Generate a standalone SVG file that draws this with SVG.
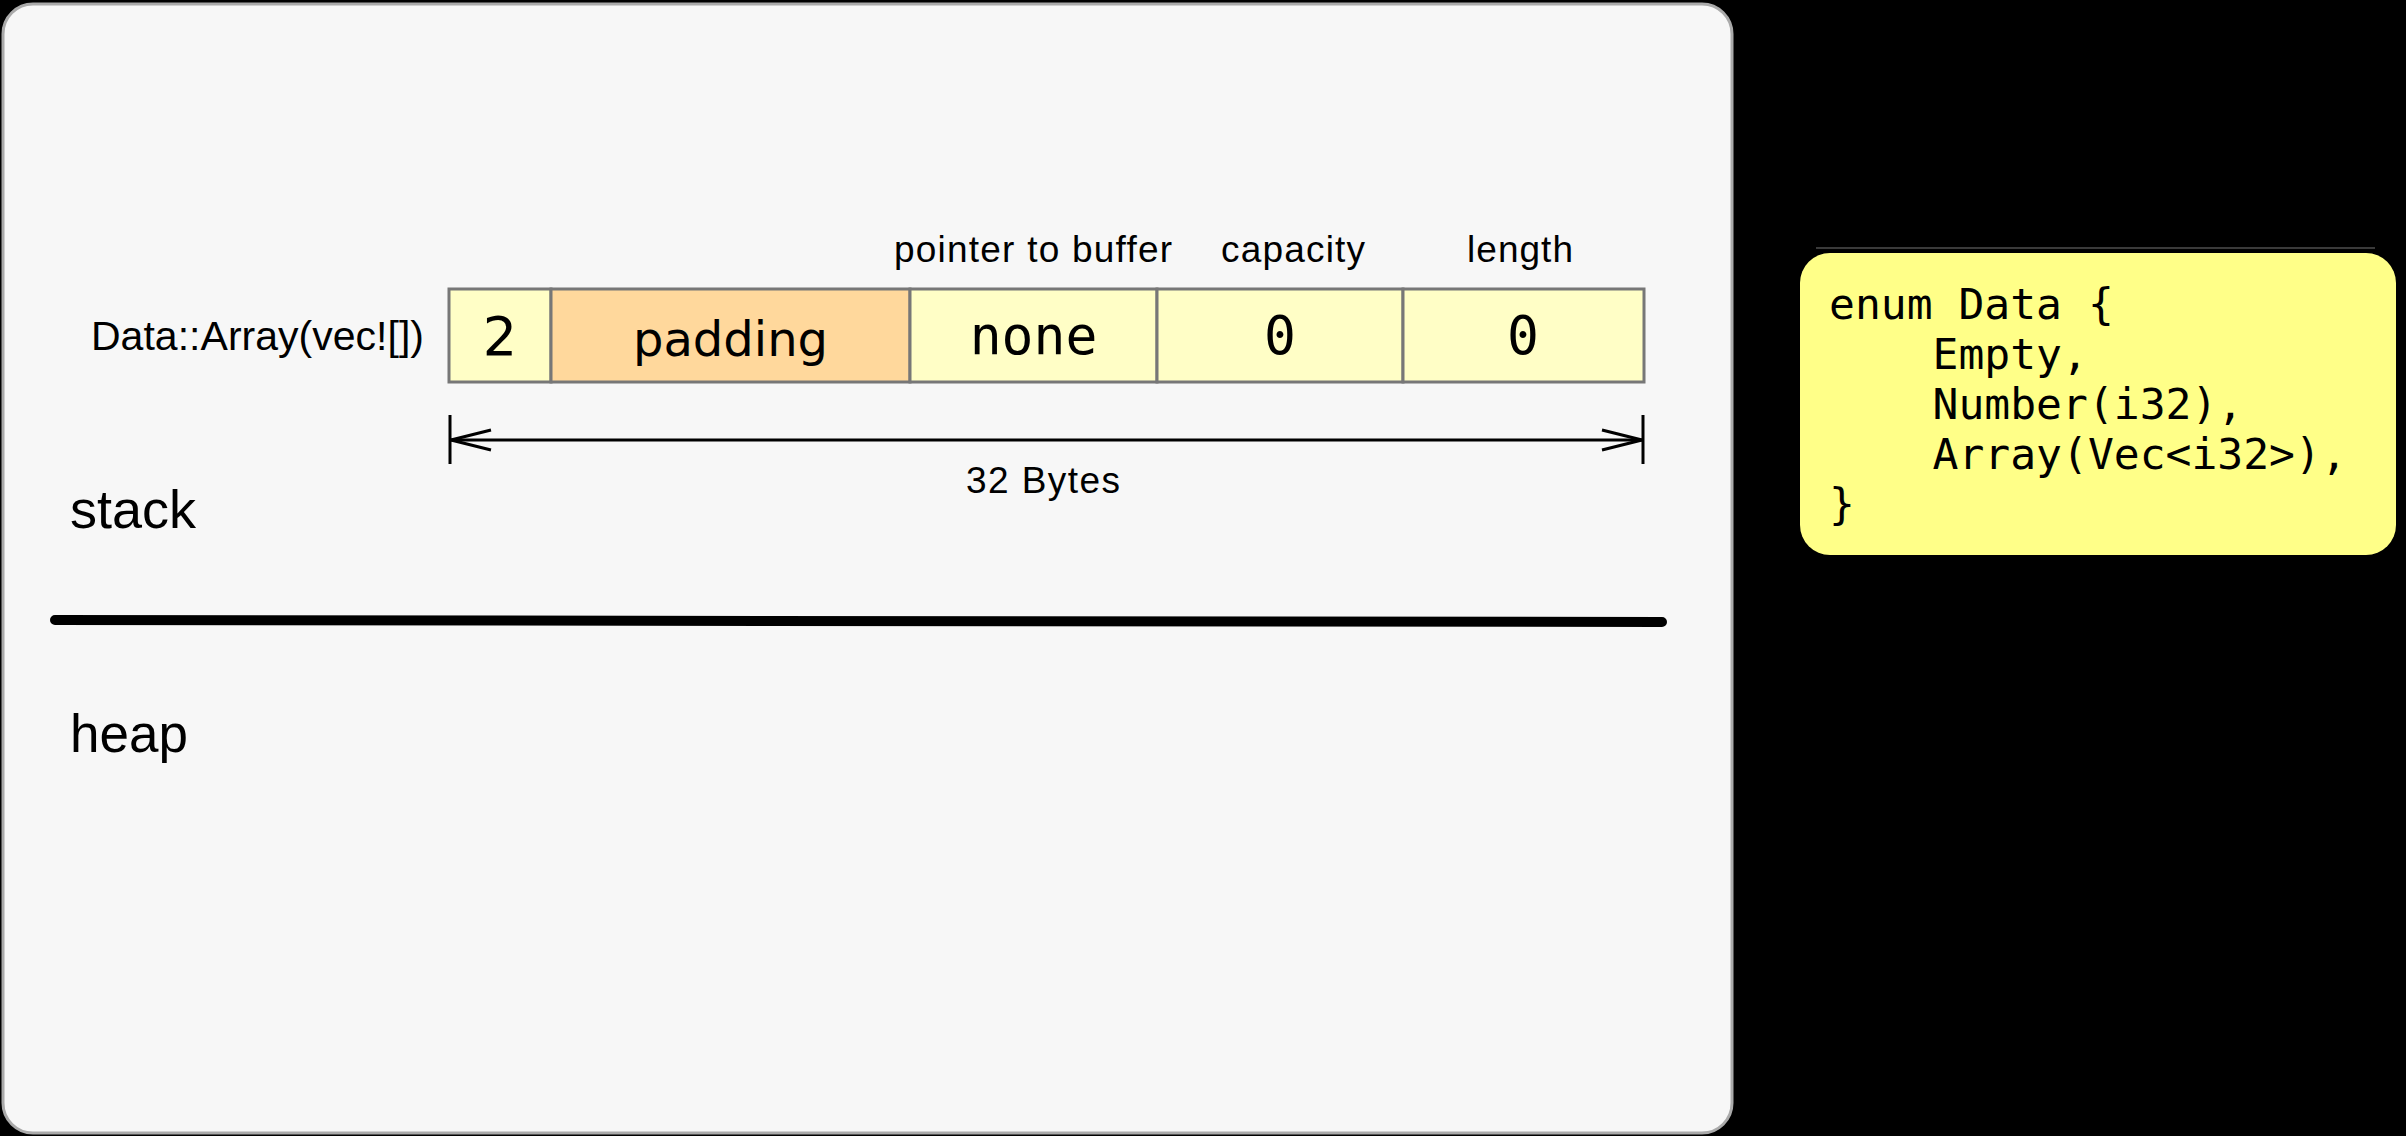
<svg xmlns="http://www.w3.org/2000/svg" width="2406" height="1136" viewBox="0 0 2406 1136">
  <style>
    .lbl { font-family: "Liberation Sans", Arial, sans-serif; fill: #000; }
    .cell { stroke: #777; stroke-width: 3; }
    .yel { fill: #FFFEC6; }
    .org { fill: #FFD89C; }
    .val { font-family: "DejaVu Sans", sans-serif; fill: #000; text-anchor: middle; }
    .mono { font-family: "DejaVu Sans Mono", "Liberation Mono", monospace; fill: #000; }
    .dim { stroke: #000; stroke-width: 3; fill: none; }
  </style>
  <defs>
    <marker id="open" viewBox="0 0 42 22" refX="40" refY="11" markerWidth="42" markerHeight="22" markerUnits="userSpaceOnUse" orient="auto-start-reverse" overflow="visible">
      <path d="M0,1 L40,11 L0,21" fill="none" stroke="#000" stroke-width="3"/>
    </marker>
  </defs>

  <rect x="0" y="0" width="2406" height="1136" fill="#000"/>

  <g id="panel">
    <rect x="3" y="4" width="1729" height="1129" rx="30" ry="30" fill="#F7F7F7" stroke="#AAAAAA" stroke-width="3"/>
    <text class="lbl" x="70" y="528" font-size="54">stack</text>
    <text class="lbl" x="70" y="752" font-size="53">heap</text>
    <line x1="55" y1="620" x2="1662" y2="622" stroke="#000" stroke-width="10" stroke-linecap="round"/>
  </g>

  <g id="data-array">
    <text class="lbl" x="91" y="350" font-size="41" textLength="333" lengthAdjust="spacing">Data::Array(vec![])</text>
    <g id="cell-tag">
      <rect class="cell yel" x="449" y="289" width="102" height="93"/>
      <text class="val" x="500" y="355" font-size="54">2</text>
    </g>
    <g id="cell-padding">
      <rect class="cell org" x="551" y="289" width="359" height="93"/>
      <text class="val" x="730.5" y="356" font-size="48">padding</text>
    </g>
    <g id="cell-pointer">
      <rect class="cell yel" x="910" y="289" width="247" height="93"/>
      <text class="mono" x="1033.5" y="354" font-size="53" text-anchor="middle">none</text>
      <text class="lbl" x="1033" y="262" font-size="37" text-anchor="middle" textLength="278" lengthAdjust="spacing">pointer to buffer</text>
    </g>
    <g id="cell-capacity">
      <rect class="cell yel" x="1157" y="289" width="246" height="93"/>
      <text class="mono" x="1280" y="354" font-size="53" text-anchor="middle">0</text>
      <text class="lbl" x="1293" y="262" font-size="37" text-anchor="middle" textLength="144" lengthAdjust="spacing">capacity</text>
    </g>
    <g id="cell-length">
      <rect class="cell yel" x="1403" y="289" width="241" height="93"/>
      <text class="mono" x="1523" y="354" font-size="53" text-anchor="middle">0</text>
      <text class="lbl" x="1520" y="262" font-size="37" text-anchor="middle" textLength="106" lengthAdjust="spacing">length</text>
    </g>
  </g>

  <g id="connectors">
    <line class="dim" x1="450" y1="415" x2="450" y2="464"/>
    <line class="dim" x1="1643" y1="415" x2="1643" y2="464"/>
    <line class="dim" x1="451" y1="440" x2="1642" y2="440" marker-start="url(#open)" marker-end="url(#open)"/>
    <text class="lbl" x="1043" y="493" font-size="37" text-anchor="middle" textLength="154" lengthAdjust="spacing">32 Bytes</text>
  </g>

  <g id="enum-code">
    <line x1="1816" y1="248" x2="2375" y2="248" stroke="#3a3a3a" stroke-width="2"/>
    <rect x="1800" y="253" width="596" height="302" rx="30" ry="30" fill="#FFFF88"/>
    <text class="mono" font-size="43" xml:space="preserve"><tspan x="1829" y="319">enum Data {</tspan><tspan x="1829" y="369">    Empty,</tspan><tspan x="1829" y="419">    Number(i32),</tspan><tspan x="1829" y="469">    Array(Vec&lt;i32&gt;),</tspan><tspan x="1829" y="519">}</tspan></text>
  </g>
</svg>
